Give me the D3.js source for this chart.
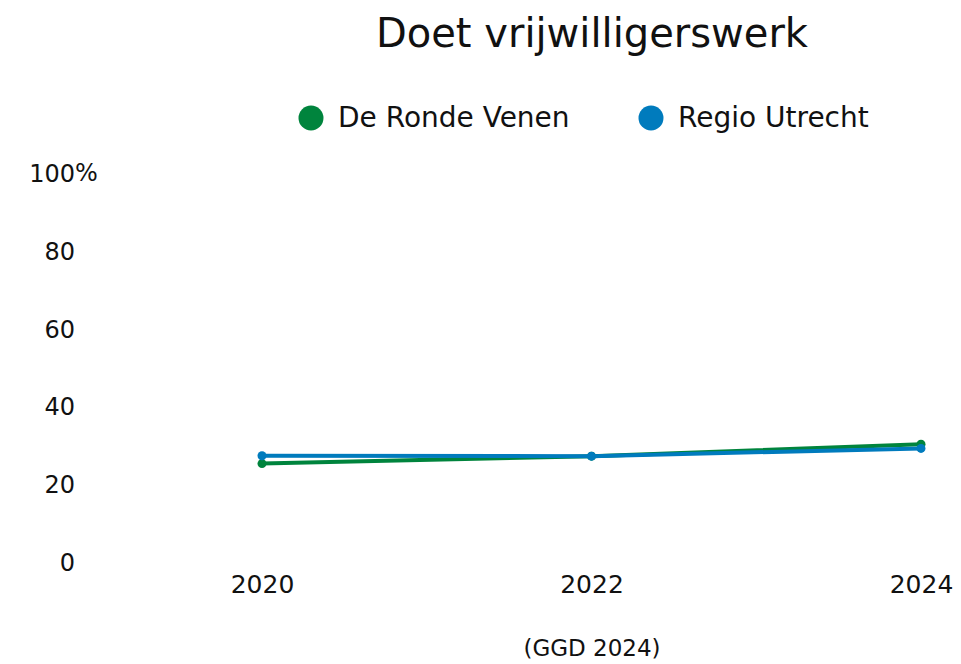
<!DOCTYPE html>
<html><head><meta charset="utf-8">
<script src="https://cdn.jsdelivr.net/npm/d3@7"></script>
<style>body{margin:0;background:#fff}svg{display:block;font-family:"DejaVu Sans",sans-serif}svg text{font-family:"DejaVu Sans",sans-serif}</style>
</head><body>
<svg id="c" width="961" height="664"></svg>
<script>
const years = ["2020","2022","2024"];
const seriesNames = ["De Ronde Venen","Regio Utrecht"];
const deRondeVenen = [25.3, 27.2, 30.3];
const regioUtrecht = [27.3, 27.2, 29.2];
const yTicks = [0,20,40,60,80,100];
const colors = ["#00843D","#007BBD"];
const title = "Doet vrijwilligerswerk";
const source = "(GGD 2024)";

const svg = d3.select("#c");
const x = d3.scalePoint().domain(years).range([262,921]);
const y = d3.scaleLinear().domain([0,100]).range([562,173]);

svg.append("text").attr("x",592).attr("y",47).attr("text-anchor","middle")
  .attr("font-size",40).attr("fill","#111").text(title);

// legend
const legX = [311,651];
seriesNames.forEach((n,i)=>{
  svg.append("circle").attr("cx",legX[i]).attr("cy",118).attr("r",12.5).attr("fill",colors[i]);
  svg.append("text").attr("x",legX[i]+27).attr("y",127).attr("font-size",28).attr("fill","#111").text(n);
});

// y axis
const ya = svg.append("g").attr("transform","translate(75,0)")
  .call(d3.axisLeft(y).tickValues(yTicks).tickSize(0).tickPadding(0).tickFormat(d=>d));
ya.attr("font-family",null);
ya.select(".domain").remove();
ya.selectAll("text").attr("font-size",24).attr("fill","#111").attr("dy","0.35em");
svg.append("text").attr("x",75).attr("y",y(100)).attr("dy","0.35em").attr("font-size",24).attr("fill","#111").text("%");

// x axis
const xa = svg.append("g").attr("transform","translate(0,575)")
  .call(d3.axisBottom(x).tickSize(0).tickPadding(0));
xa.attr("font-family",null);
xa.select(".domain").remove();
xa.selectAll("text").attr("font-size",25).attr("fill","#111").attr("dy","0.71em");

svg.append("text").attr("x",592).attr("y",656).attr("text-anchor","middle")
  .attr("font-size",23).attr("fill","#111").text(source);

const line = d3.line().x((d,i)=>x(years[i])).y(d=>y(d));
[deRondeVenen, regioUtrecht].forEach((s,i)=>{
  svg.append("path").datum(s).attr("d",line).attr("fill","none")
    .attr("stroke",colors[i]).attr("stroke-width",4);
  svg.selectAll(null).data(s).enter().append("circle")
    .attr("cx",(d,j)=>x(years[j])).attr("cy",d=>y(d)).attr("r",4.5).attr("fill",colors[i]);
});
</script>
</body></html>
